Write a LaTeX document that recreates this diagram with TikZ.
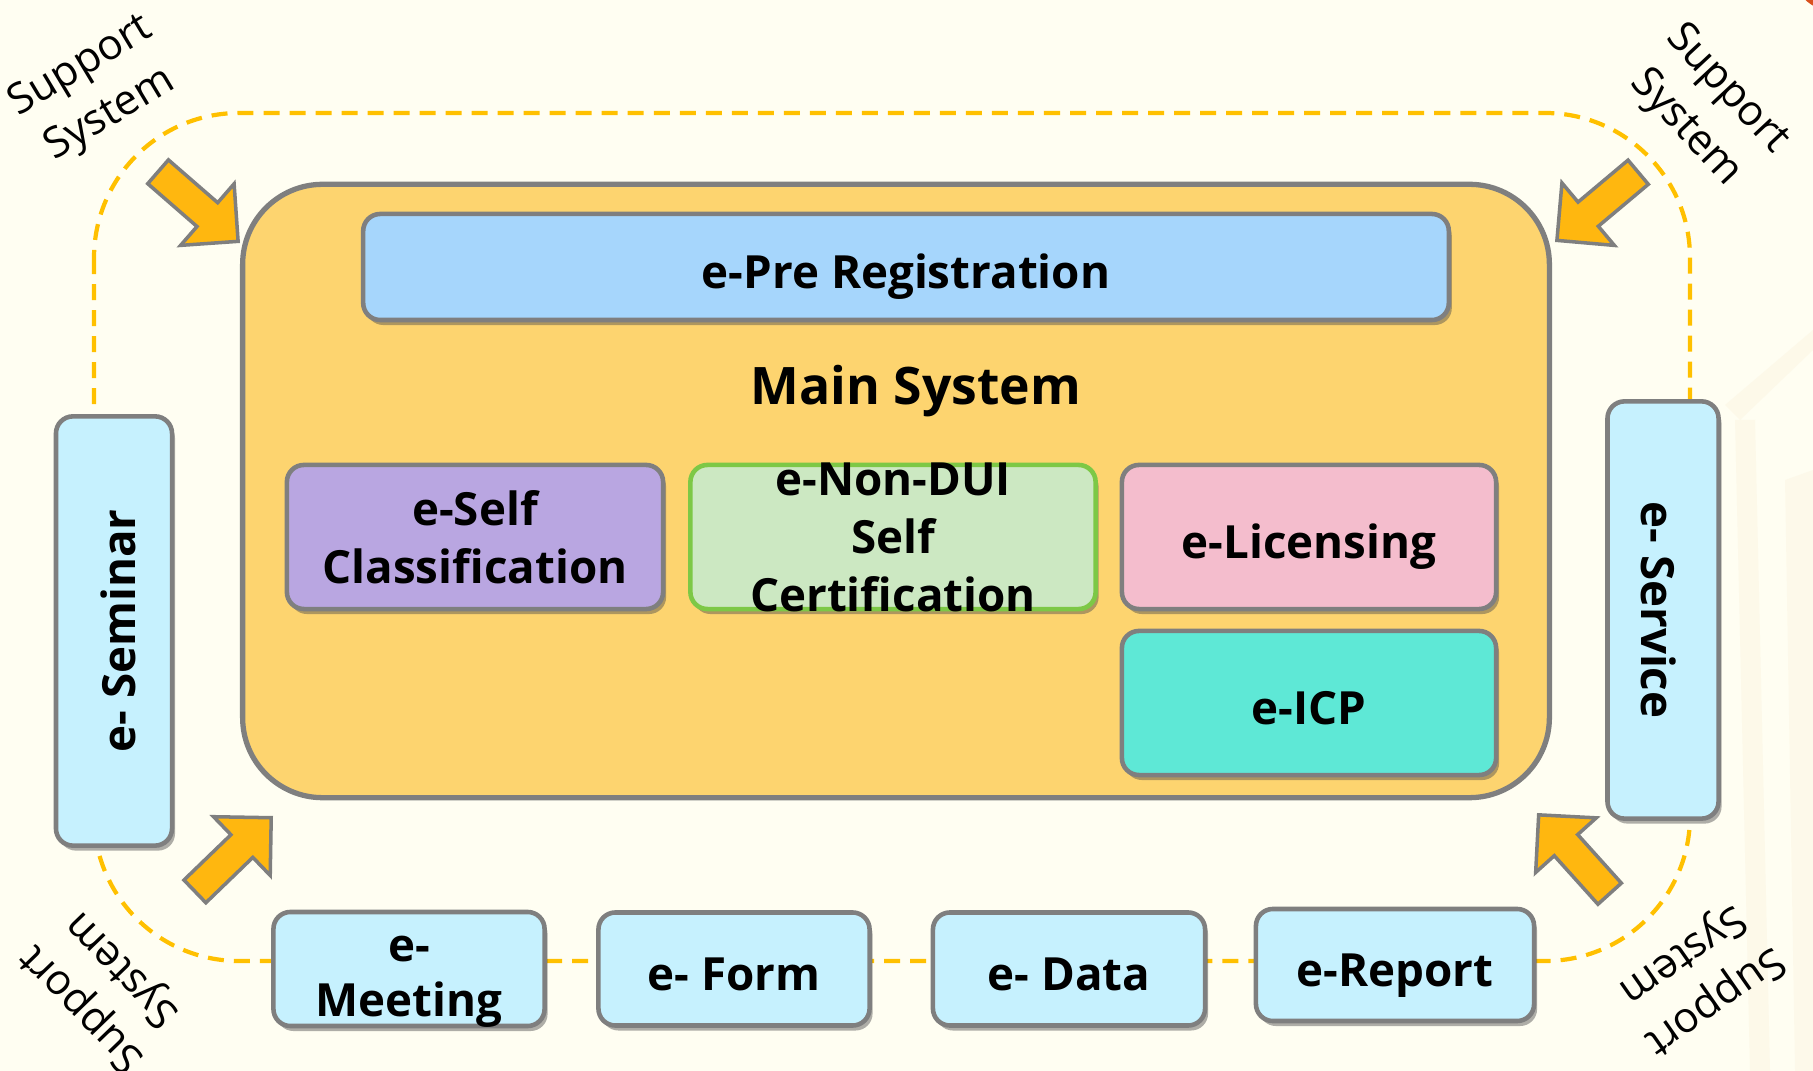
\documentclass[tikz,border=0pt]{standalone}
\usepackage{fontspec}
\setmainfont{Open Sans}
\usepackage{tikz}
\usetikzlibrary{shapes.arrows}
\usetikzlibrary{shadows}
\definecolor{bgcream}{HTML}{FFFEF2}
\definecolor{bgfaint}{HTML}{FBF2DC}
\definecolor{cornerred}{HTML}{D9501E}
\definecolor{mainorange}{HTML}{FDD46F}
\definecolor{boxgray}{HTML}{7F7F7F}
\definecolor{regblue}{HTML}{A6D6FC}
\definecolor{selfpurple}{HTML}{B9A6E1}
\definecolor{duigreen}{HTML}{CCE8C2}
\definecolor{duiedge}{HTML}{7DC846}
\definecolor{licpink}{HTML}{F4BDCD}
\definecolor{icpteal}{HTML}{5EE8D6}
\definecolor{sidecyan}{HTML}{C6F1FE}
\definecolor{arrowgold}{HTML}{FFB70F}
\definecolor{loopgold}{HTML}{FFC000}
\tikzset{subsys/.style={draw=boxgray,line width=1.3pt,rounded corners=0.17cm,align=center,
    font=\bfseries\fontsize{13}{16.5}\selectfont,inner sep=0pt,
    drop shadow={shadow xshift=0.03cm,shadow yshift=-0.05cm,opacity=0.45,fill=black!70}}}
\tikzset{oneline/.style={text height=12pt,text depth=0pt}}
\tikzset{sidebox/.style={subsys,fill=sidecyan}}
\tikzset{boxtext/.style={align=center,font=\bfseries\fontsize{13}{16.5}\selectfont,inner sep=0pt}}
\tikzset{pushar/.style={single arrow,draw=boxgray,fill=arrowgold,line width=1pt,
    minimum height=1.06cm,minimum width=0.64cm,inner xsep=0pt,inner ysep=0.14cm}}
\tikzset{supp/.style={align=center,font=\fontsize{12}{16}\selectfont,inner sep=0pt}}

\begin{document}
\begin{tikzpicture}[x=0.01cm,y=-0.01cm]
    \fill[bgcream] (0,0) rectangle (1813,1071);
    \useasboundingbox (0,0) rectangle (1813,1071);
    \fill[bgfaint,opacity=0.4] (1725,405) -- (1813,330) -- (1813,350) -- (1740,420) -- cycle;
    \fill[bgfaint,opacity=0.4] (1735,420) -- (1755,420) -- (1770,1071) -- (1750,1071) -- cycle;
    \fill[bgfaint,opacity=0.35] (1785,480) -- (1813,470) -- (1813,1071) -- (1795,1071) -- cycle;
    \fill[cornerred] (1830,-25) circle (0.35cm);
    \draw[loopgold,line width=1.2pt,dash pattern=on 0.16cm off 0.1cm,rounded corners=1.45cm] (94,113) rectangle (1690,961);

    \node[draw=boxgray,fill=mainorange,line width=1.5pt,rounded corners=0.8cm,minimum width=13.06cm,minimum height=6.13cm] (mainsys) at (896,491) {};
    \node[font=\bfseries\fontsize{14.7}{18}\selectfont] (maintitle) at (916,391) {Main System};

    \node[subsys,oneline,fill=regblue,minimum width=10.85cm,minimum height=1.06cm] (prereg) at (906,267) {e-Pre Registration};
    \node[subsys,fill=selfpurple,minimum width=3.76cm,minimum height=1.44cm] (selfcls) at (475,537) {e-Self\\Classification};
    \node[subsys,fill=duigreen,draw=duiedge,minimum width=4.05cm,minimum height=1.44cm] (nondui) at (893,537) {};
    \node[boxtext] (nonduitext) at (nondui.center) {e-Non-DUI\\Self\\Certification};
    \node[subsys,oneline,fill=licpink,minimum width=3.74cm,minimum height=1.44cm] (licensing) at (1309,537) {e-Licensing};
    \node[subsys,oneline,fill=icpteal,minimum width=3.74cm,minimum height=1.44cm] (icp) at (1309,703) {e-ICP};

    \node[sidebox,oneline,rotate=90,minimum width=4.29cm,minimum height=1.16cm] (seminar) at (114,631) {e- Seminar};
    \node[sidebox,oneline,rotate=-90,minimum width=4.17cm,minimum height=1.11cm] (service) at (1663,610) {e- Service};
    \node[sidebox,minimum width=2.71cm,minimum height=1.14cm] (meeting) at (409,969) {};
    \node[boxtext,font=\bfseries\fontsize{13}{15.7}\selectfont,yshift=-0.13cm] (meetingtext) at (meeting.center) {e-\\Meeting};
    \node[sidebox,oneline,minimum width=2.71cm,minimum height=1.13cm] (form) at (734,969) {e- Form};
    \node[sidebox,oneline,minimum width=2.72cm,minimum height=1.13cm] (data) at (1069,969) {e- Data};
    \node[sidebox,oneline,minimum width=2.78cm,minimum height=1.12cm] (report) at (1395,965) {e-Report};

    \node[pushar,rotate=-41,anchor=tip] (arrtl) at (240,243) {};
    \node[pushar,rotate=-140,anchor=tip] (arrtr) at (1555,242) {};
    \node[pushar,rotate=44,anchor=tip] (arrbl) at (273,816) {};
    \node[pushar,rotate=132,anchor=tip] (arrbr) at (1537,813) {};

    \node[supp,rotate=31] (supptl) at (96,91) {Support\\System};
    \node[supp,rotate=-47] (supptr) at (1706,109) {Support\\System};
    \node[supp,rotate=134] (suppbl) at (103,988) {Support\\System};
    \node[supp,rotate=215] (suppbr) at (1698,977) {Support\\System};
\end{tikzpicture}
\end{document}
